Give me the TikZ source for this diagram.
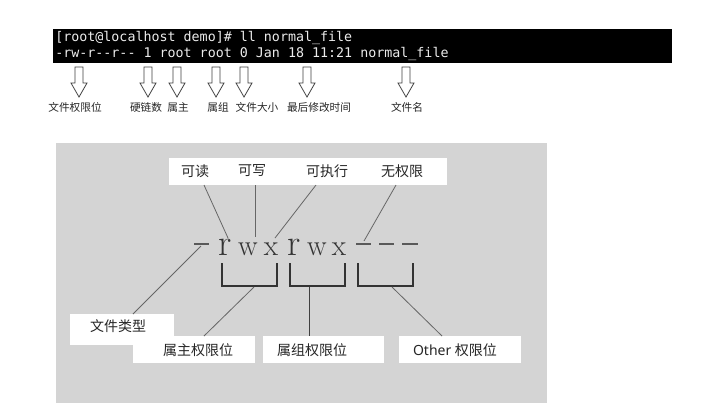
\documentclass[tikz,border=0pt]{standalone}
\usepackage{fontspec}
\setmonofont{DejaVu Sans Mono}
\newfontfamily\cjk{Noto Sans CJK SC}
\begin{document}
\begin{tikzpicture}[x=0.75pt,y=-0.75pt,
  term/.style={anchor=west,inner sep=0pt,font=\ttfamily\fontsize{10}{12}\selectfont,text=white!85!gray},
  harrow/.style={draw=black!75,fill=white,line width=0.6pt},
  toplab/.style={font=\cjk\fontsize{8}{10}\selectfont,inner sep=0pt,text=black!85},
  lab/.style={font=\cjk\fontsize{10.5}{12}\selectfont,inner sep=0pt,text=black!85},
  big/.style={font=\fontsize{28}{30}\selectfont,inner sep=0pt,anchor=base,text=black!80},
  small/.style={font=\fontsize{22}{24}\selectfont,inner sep=0pt,anchor=base,text=black!80},
  conn/.style={draw=black!60,line width=0.6pt},
  brk/.style={draw=black!80,line width=1.5pt},
  wbox/.style={fill=white,draw=none}]
\useasboundingbox (0,0) rectangle (720,405);
\fill[white] (0,0) rectangle (720,405);
% terminal
\fill[black] (53,29) rectangle (672,63);
\node[term] (l1) at (55,38) {[root@localhost demo]\# ll normal\_file};
\node[term] (l2) at (55,54) {-rw-r--r-- 1 root root 0 Jan 18 11:21 normal\_file};
% hollow arrows and labels
\foreach \x/\t [count=\i] in {79/文件权限位,148/硬链数,177/属主,216/属组,244/文件大小,307/最后修改时间,406/文件名}{
  \draw[harrow] (\x-4,67) -- (\x+4,67) -- (\x+4,83) -- (\x+8,83) -- (\x,97) -- (\x-8,83) -- (\x-4,83) -- cycle;
}
\node[toplab] (t1) at (75,107) {文件权限位};
\node[toplab] (t2) at (146,107) {硬链数};
\node[toplab] (t3) at (178,107) {属主};
\node[toplab] (t4) at (218,107) {属组};
\node[toplab] (t5) at (257,107) {文件大小};
\node[toplab] (t6) at (319,107) {最后修改时间};
\node[toplab] (t7) at (407,107) {文件名};
% gray panel
\fill[black!17] (56,143) rectangle (547,403);
\fill[white] (169,158) rectangle (447,185);
\node[lab] (r) at (195,171) {可读};
\node[lab] (w) at (252,171) {可写};
\node[lab] (x) at (327,171) {可执行};
\node[lab] (n) at (402,171) {无权限};
% letters
\draw[draw=black!65,line width=1.5pt] (194,244) -- (209,244);
\coordinate (d0) at (201,246);
\node[big] (r1) at (225,255) {r};
\node[small] (w1) at (248,255) {w};
\node[small] (x1) at (271,255) {x};
\node[big] (r2) at (294,255) {r};
\node[small] (w2) at (317,255) {w};
\node[small] (x2) at (339,255) {x};
\draw[draw=black!65,line width=1.5pt] (356,244) -- (371,244) (379,244) -- (394,244) (402,244) -- (418,244);
\coordinate (d1) at (364,241);
% connectors top
\coordinate (rs) at (204,185); \coordinate (re) at (228,238);
\coordinate (ws) at (255,185); \coordinate (we) at (255,237);
\coordinate (xs) at (316,185); \coordinate (xe) at (275,238);
\coordinate (ns) at (396,185);
\draw[conn] (rs) -- (re);
\draw[conn] (ws) -- (we);
\draw[conn] (xs) -- (xe);
\draw[conn] (ns) -- (d1);
% brackets
\draw[brk] (222,263) -- (222,286) -- (277,286) -- (277,263);
\draw[brk] (290,263) -- (290,286) -- (345,286) -- (345,263);
\draw[brk] (358,263) -- (358,286) -- (413,286) -- (413,263);
\coordinate (b1) at (254,287); \coordinate (b2) at (309,287); \coordinate (b3) at (392,287);
% bottom boxes
\fill[wbox] (70,314) rectangle (174,345);
\fill[wbox] (133,336) rectangle (255,363);
\fill[wbox] (263,336) rectangle (384,363);
\fill[wbox] (399,336) rectangle (521,363);
\node[lab] (ft) at (118,326) {文件类型};
\node[lab] (ou) at (198,350) {属主权限位};
\node[lab] (gr) at (312,350) {属组权限位};
\node[lab,font=\fontspec{Noto Sans}\fontsize{10.5}{12}\selectfont] (ot) at (455,350) {Other {\cjk 权限位}};
\coordinate (fte) at (133,314); \coordinate (oue) at (204,336);
\coordinate (gre) at (309,336); \coordinate (ote) at (442,336);
\draw[conn] (d0) -- (fte);
\draw[conn] (b1) -- (oue);
\draw[conn,draw=black!75] (b2) -- (gre);
\draw[conn] (b3) -- (ote);
\end{tikzpicture}
\end{document}
